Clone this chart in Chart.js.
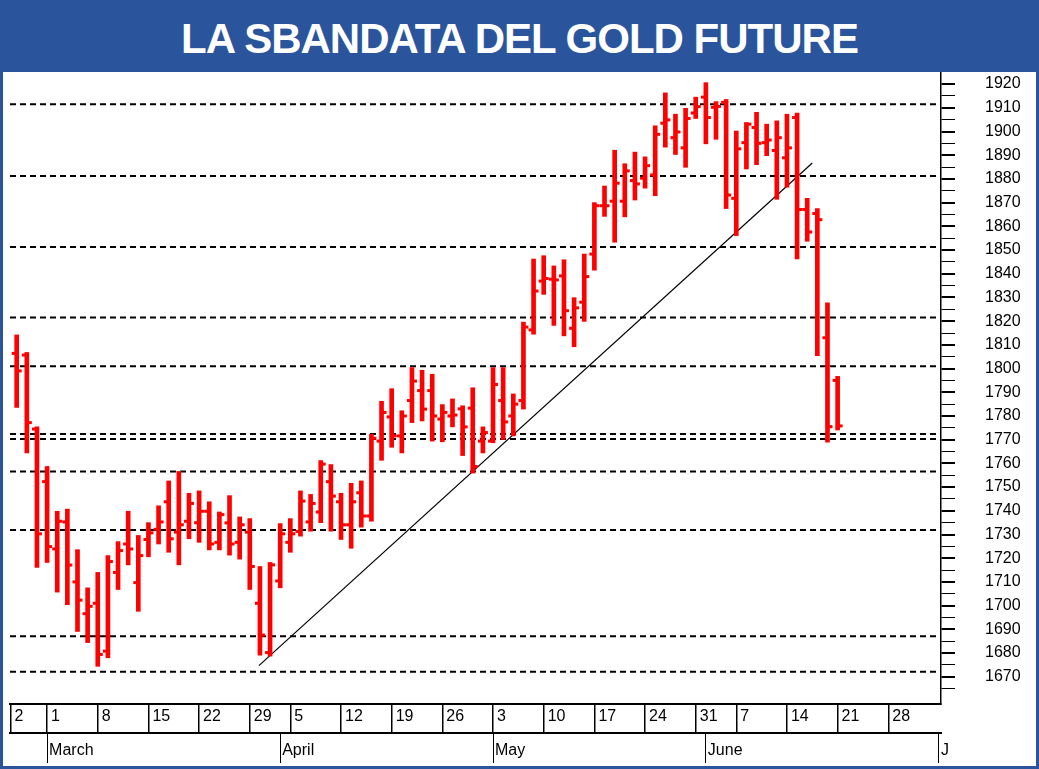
<!DOCTYPE html>
<html>
<head>
<meta charset="utf-8">
<script src="https://cdn.jsdelivr.net/npm/chart.js@4.4.0/dist/chart.umd.min.js"></script>
<style>
  html, body { margin: 0; padding: 0; background: #fff; }
  #wrap { width: 1039px; height: 769px; box-sizing: border-box; border: 3px solid #2a559c; border-top: none; position: relative; }
  #title { height: 72px; background: #2a559c; color: #fff; text-align: center;
           font: bold 42px "Liberation Sans", Arial, sans-serif; line-height: 78px; letter-spacing: -1px; }
  #box { position: absolute; left: 0; top: 72px; width: 1033px; height: 694px; }
</style>
</head>
<body>
<div id="wrap">
  <div id="title">LA SBANDATA DEL GOLD FUTURE</div>
  <div id="box"><canvas id="chart"></canvas></div>
</div>
<script>
// trading-day index (Feb 22 = 0), one bar per session
var firstDay = 2;
var opens  = [1806.4,1805.7,1774.5,1752.3,1723.9,1735.3,1710,1696.6,1701,1680.8,1714,1726,1709.7,1727.9,1732.2,1743.8,1731,1735.6,1735,1739.8,1726.7,1734.9,1726.7,1731,1701,1680.2,1710.4,1726.7,1731.3,1735.3,1739.5,1752.3,1743.8,1734.1,1747.6,1737.8,1769.4,1779.6,1771.6,1786.5,1790.7,1790.7,1778.7,1780,1783,1783.3,1769.4,1769.4,1786.5,1780,1786.5,1816.3,1836.9,1837.7,1839.1,1817,1828,1848.3,1868.7,1870.6,1870.6,1879.3,1880.3,1881.7,1903.5,1897.4,1893.1,1907.8,1914.5,1910.2,1912.3,1871.8,1895.3,1901.7,1895.3,1892,1888.9,1905.9,1867.1,1865.4,1813,1795];
var highs  = [1814.2,1806.8,1775.4,1758.7,1739.8,1740.7,1723.6,1707.5,1714,1721.1,1727,1739.8,1729.6,1735,1742.1,1752.6,1756.6,1747.4,1748.4,1743.8,1739.5,1746.4,1737.4,1736.7,1716.5,1718.2,1734.6,1736.7,1748.4,1746.9,1761.2,1759.5,1747.4,1751.6,1752.6,1772.3,1786.2,1791.5,1782.2,1800.4,1799.3,1797.6,1784.8,1787.2,1784.3,1791.9,1775.4,1800.4,1800.4,1789.3,1819.6,1846.2,1847.6,1843.3,1845.9,1829.9,1848.3,1870,1877,1892.1,1886.4,1891.3,1889.3,1902.4,1916.3,1907.3,1909.8,1914.5,1920.6,1912.6,1913.5,1900.2,1903.8,1908.1,1903.1,1904.5,1907.3,1907.8,1871.8,1867.5,1827.7,1796.7];
var lows   = [1783.6,1764.4,1716.1,1718.2,1705.7,1700.4,1689.1,1684.4,1674.4,1678,1706.8,1717.2,1697.6,1720.6,1726,1722.5,1717.2,1728.2,1726.7,1723.5,1723.5,1721.3,1719.6,1706.8,1679.1,1678.7,1707.5,1722.5,1729.3,1731.4,1735,1731.4,1727.9,1724.2,1733.1,1735.6,1761.3,1766.8,1764.4,1777.2,1777.9,1769.4,1769.1,1775.4,1763.3,1755.9,1764.4,1768.7,1770.1,1771.6,1782.9,1814.5,1831.3,1818.2,1813.8,1809.2,1819.9,1841.5,1864.2,1853.3,1864,1871.1,1876.1,1872.9,1893.4,1890.3,1884.9,1905.5,1894.8,1896.7,1867.5,1856.1,1884.2,1886,1889.8,1871.4,1876.5,1846.2,1853.7,1805.4,1769,1774.1];
var closes = [1799,1777.2,1730.3,1724.9,1735.6,1717.1,1702.3,1699.7,1679.4,1718.6,1723.2,1723.9,1721.1,1730.7,1735.3,1728.2,1734.1,1743.1,1739.8,1726,1738.4,1726,1734.1,1716.5,1687.6,1717.2,1730.3,1730.3,1744.1,1743.1,1759.7,1746.2,1734.1,1743.8,1737.8,1770.6,1781.5,1771.6,1780,1794.7,1782.9,1780,1781.5,1780.4,1775.4,1758.7,1773,1793.3,1777.5,1785,1817.5,1832.7,1838,1837.4,1824.4,1825.6,1838.8,1868.7,1868.7,1878.2,1883.4,1877.9,1885.6,1898.8,1904.9,1899.8,1905.5,1910.5,1905.9,1910.6,1873.2,1892.7,1903.1,1895,1896.4,1897.4,1893.1,1867.1,1857.6,1862.8,1775.5,1775.8];

// support / resistance levels and trendline
var levels = [1911.5,1881.2,1851.3,1821.5,1801,1772.4,1770.3,1756.6,1731.9,1687.1,1672.1];
var trendX = [25.9, 80.5];
var trendY = [1674.7, 1886.7];

// axis labels
var weekPos    = [1.4, 5, 10, 15, 20, 25, 29, 34, 39, 44, 49, 54, 59, 64, 69, 73, 78, 83, 88];
var weekLabels = ['2','1','8','15','22','29','5','12','19','26','3','10','17','24','31','7','14','21','28'];
var monthPos    = [5, 28, 49, 70, 93];
var monthLabels = ['March', 'April', 'May', 'June', 'J'];

var xMin = 1.34, xMax = 93.2;
var font = '"Liberation Sans", Arial, sans-serif';

var hl = highs.map(function(h, i) { return { x: firstDay + i, y: [lows[i], h] }; });
var lineSets = levels.map(function(v) {
    return { type: 'line', data: [{x: xMin, y: v}, {x: xMax, y: v}], borderColor: '#000',
             borderWidth: 2, borderDash: [6, 4], pointRadius: 0, order: 2 };
});
lineSets.push({ type: 'line', data: [{x: trendX[0], y: trendY[0]}, {x: trendX[1], y: trendY[1]}],
                borderColor: '#000', borderWidth: 1.2, pointRadius: 0, order: 2 });

// open (left) and close (right) ticks
var ocTicks = {
    id: 'ocTicks',
    afterDatasetsDraw: function(chart) {
        var c = chart.ctx, xs = chart.scales.x, ys = chart.scales.y;
        c.save();
        c.fillStyle = '#ff0000';
        for (var i = 0; i < opens.length; i++) {
            var px = xs.getPixelForValue(firstDay + i);
            c.fillRect(px - 5, ys.getPixelForValue(opens[i]) - 1.5, 4, 3);
            c.fillRect(px + 1, ys.getPixelForValue(closes[i]) - 1.5, 4, 3);
        }
        c.restore();
    }
};

new Chart(document.getElementById('chart'), {
    type: 'bar',
    data: {
        datasets: [{ data: hl, backgroundColor: '#ff0000', barThickness: 4, order: 1 }].concat(lineSets)
    },
    options: {
        responsive: true, maintainAspectRatio: false, animation: false,
        layout: { padding: { left: 7, top: 0, right: 0, bottom: 0 } },
        plugins: { legend: { display: false }, tooltip: { enabled: false } },
        scales: {
            x: {
                type: 'linear', min: xMin, max: xMax, position: 'bottom', offset: false,
                border: { color: '#000', width: 2 },
                grid: { drawOnChartArea: false, offset: false, color: '#000', tickLength: 29, lineWidth: 1.5 },
                afterBuildTicks: function(s) { s.ticks = weekPos.map(function(v) { return { value: v }; }); },
                afterFit: function(s) { s.height = 29; s.paddingLeft = 0; s.paddingRight = 0; },
                ticks: {
                    autoSkip: false, maxRotation: 0, align: 'start', padding: -26, labelOffset: 4,
                    color: '#000', font: { family: font, size: 16 },
                    callback: function(v) { return weekLabels[weekPos.indexOf(v)]; }
                }
            },
            x2: {
                type: 'linear', min: xMin, max: xMax, position: 'bottom', offset: false,
                border: { color: '#000', width: 2 },
                grid: { drawOnChartArea: false, offset: false, color: '#000', tickLength: 30, lineWidth: 1 },
                afterBuildTicks: function(s) { s.ticks = monthPos.map(function(v) { return { value: v }; }); },
                afterFit: function(s) { s.height = 33; s.paddingLeft = 0; s.paddingRight = 0; },
                ticks: {
                    autoSkip: false, maxRotation: 0, align: 'start', padding: -22, labelOffset: 2,
                    color: '#000', font: { family: font, size: 16 },
                    callback: function(v) { return monthLabels[monthPos.indexOf(v)]; }
                }
            },
            y: {
                position: 'right', min: 1658.5, max: 1925.1,
                border: { color: '#000', width: 1.5 },
                grid: { drawOnChartArea: false, color: '#000', tickLength: 14,
                        lineWidth: function(ctx) { return ctx.tick && ctx.tick.value % 10 === 0 ? 2 : 1; } },
                afterBuildTicks: function(s) {
                    var t = [];
                    for (var v = 1665; v <= 1920; v += 5) t.push({ value: v });
                    s.ticks = t;
                },
                afterFit: function(s) { s.width = 95; s.paddingTop = 0; s.paddingBottom = 0; },
                ticks: {
                    autoSkip: false, padding: 30, color: '#000', font: { family: font, size: 16 },
                    callback: function(v) { return v % 10 === 0 ? String(v) : ''; }
                }
            }
        }
    },
    plugins: [ocTicks]
});
</script>
</body>
</html>
